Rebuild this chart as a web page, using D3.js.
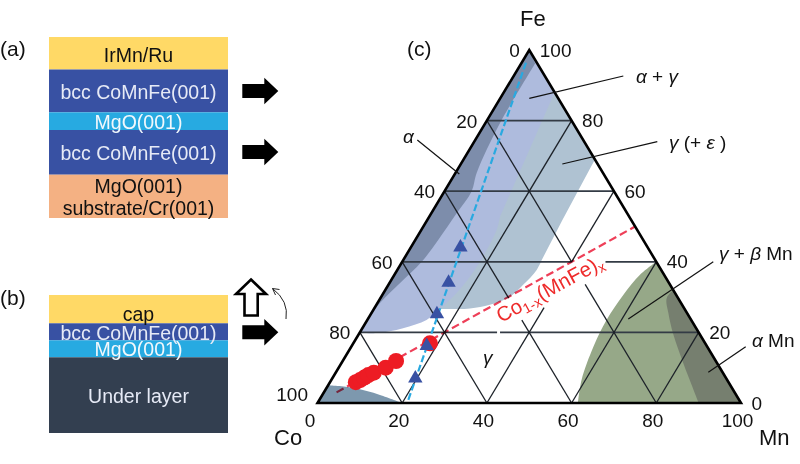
<!DOCTYPE html>
<html>
<head>
<meta charset="utf-8">
<script src="https://cdnjs.cloudflare.com/ajax/libs/d3/7.8.5/d3.min.js"></script>
<style>
html,body{margin:0;padding:0;background:#fff;}
svg{display:block;}
text{font-family:"Liberation Sans",Arial,sans-serif;}
</style>
</head>
<body>
<svg id="chart" width="800" height="464"></svg>
<script>
// layer stacks, top to bottom
var stackAThick=[32.5,42.8,17.7,44.7,43.3];
var stackAColors=["#ffd966","#3851a3","#27aae1","#3851a3","#f4b183"];
var stackALabels=[["IrMn/Ru"],["bcc CoMnFe(001)"],["MgO(001)"],["bcc CoMnFe(001)"],["MgO(001)","substrate/Cr(001)"]];
var stackATextColors=["#111","#e6eaf6","#f2f8fc","#e6eaf6","#111"];
var stackBThick=[28.3,17,17,75.7];
var stackBColors=["#ffd966","#3851a3","#27aae1","#333f50"];
var stackBLabels=[["cap"],["bcc CoMnFe(001)"],["MgO(001)"],["Under layer"]];
var stackBTextColors=["#111","#e6eaf6","#f2f8fc","#e6eaf6"];

// ternary values, every pair is [Mn, Fe] in at.%
var ticks=[0,20,40,60,80,100];
var triangleMn=[11.7,13.9,15.6,17.7,19.6];
var triangleFe=[44.1,34.1,25.2,16.2,7];
var circleMn=[6.1,6.8,7.45,8.05,9,11.1,12.6,18.1];
var circleFe=[5.9,6.5,7.2,7.9,8.6,10,11.9,16.9];
var blueLine=[[21,0.9],[0.9,97]];
var redLine=[[3,3],[50,50]];

// regions: straight runs and curved runs of the outline
var gammaOuter=[[15.6,26.6],[12,88],[31,69],[31.9,51.8],[32.7,40.5]];
var gammaLower=[[32.7,40.5],[32.9,37.7],[31.8,33.4],[30.4,30.1],[26.8,27.8],[22.6,26.8],[15.6,26.6]];
var alphaGammaOuter=[[0,20],[0,100],[12,88],[16.7,52.8]];
var alphaGammaSide=[[16.7,52.8],[17.8,49],[18.3,38.6],[17.3,31.2],[15.6,26.6]];
var alphaGammaLower=[[15.6,26.6],[14,23.5],[9.6,21.2],[4.1,19.8],[0,20]];
var alphaOuter=[[0,23],[0,100],[3.3,96.2]];
var alphaSide=[[3.3,96.2],[3.45,79.3],[5,65.2],[6.4,60],[6,53.8],[5.4,46.2],[4.6,40],[2.5,34],[0.6,28.3],[0,23]];
var coCornerOuter=[[20,0],[0,0],[0,5]];
var coCornerTop=[[0,5],[6.3,4.3],[13.6,2.3],[20,0]];
var gammaBetaOuter=[[61.5,0],[100,0],[60,40]];
var gammaBetaSide=[[60,40],[58,36.3],[56.9,30.6],[56.5,23.5],[57.2,15.9],[59.1,6.5],[61.5,0]];
var alphaMnOuter=[[90,0],[100,0],[68,32]];
var alphaMnSide=[[68,32],[67.6,29.7],[70.1,25.5],[74.4,19.3],[80.8,11.2],[85.8,5.1],[90,0]];

// grid pieces, broken where the red label sits
var gridHorizontal=[[[0,20],[32.4,20]],[[33.1,20],[80,20]],[[0,40],[40,40]],[[48,40],[60,40]],[[0,60],[40,60]],[[0,80],[20,80]]];
var gridDiagonal=[[[20,0],[20,80]],[[40,0],[40,27]],[[40,40],[40,60]],[[60,0],[60,40]],[[80,0],[80,20]],
	[[0,20],[20,0]],[[0,40],[40,0]],[[0,60],[30.3,29.7]],[[36.5,23.5],[60,0]],[[0,80],[40,40]],[[46.4,33.6],[80,0]]];

var svg=d3.select("#chart");

var xScale=d3.scaleLinear().domain([0,100]).range([317.5,741]);
var yScale=d3.scaleLinear().domain([0,100]).range([403,50]);
var px=d=>xScale(d[0]+d[1]/2);
var py=d=>yScale(d[1]);
var ternLine=d3.line().x(px).y(py);
var ternShape=d3.line().x(px).y(py).curve(d3.curveLinearClosed);
var ternCurve=d3.line().x(px).y(py).curve(d3.curveCatmullRom);

function regionPath(straight,curves){
	let p=ternLine(straight);
	curves.forEach(c=>{
		p+=ternCurve(c).replace("M","L");
	});
	return p+"Z";
}

function drawStack(top,thick,colors,labels,textColors,textY){
	let edges=d3.cumsum(thick);
	let y=d3.scaleLinear().domain([0,d3.sum(thick)]).range([top,top+d3.sum(thick)]);
	svg.append("g").selectAll("rect")
	.data(thick)
	.enter()
	.append("rect")
	.attr("x",49)
	.attr("width",179)
	.attr("y",(d,i)=>y(i?edges[i-1]:0))
	.attr("height",d=>y(d)-y(0))
	.attr("fill",(d,i)=>colors[i]);

	labels.forEach((rows,i)=>{
		rows.forEach((row,j)=>{
			svg.append("text")
			.attr("x",138.5)
			.attr("y",textY[i][j])
			.attr("text-anchor","middle")
			.attr("dominant-baseline","central")
			.attr("font-size",19.5)
			.attr("fill",textColors[i])
			.text(row);
		});
	});
}

drawStack(37,stackAThick,stackAColors,stackALabels,stackATextColors,[[54.5],[91.7],[122.3],[152.7],[185.7,208.3]]);
drawStack(295,stackBThick,stackBColors,stackBLabels,stackBTextColors,[[313.5],[332.7],[349.3],[395.7]]);

function rightArrow(cy){
	let pts=[[242.3,cy-7],[264.3,cy-7],[264.3,cy-13.3],[278.3,cy],[264.3,cy+13.3],[264.3,cy+7],[242.3,cy+7]];
	svg.append("path").attr("d",d3.line()(pts)+"Z").attr("fill","#000");
}
[91,152,332.3].forEach(rightArrow);

svg.append("path")
.attr("d",d3.line()([[251,279.5],[266,294],[257.7,294],[257.7,315.5],[244.5,315.5],[244.5,294],[236,294]])+"Z")
.attr("fill","#fff")
.attr("stroke","#000")
.attr("stroke-width",2.6);

svg.append("path")
.attr("d","M286,319Q289,301 272.5,288.5M272.5,288.5L279.5,289.5M272.5,288.5L275.5,295")
.attr("fill","none")
.attr("stroke","#222")
.attr("stroke-width",1);

// ternary regions
svg.append("path").attr("d",regionPath(gammaOuter,[gammaLower])).attr("fill","#afc2d2");
svg.append("path").attr("d",regionPath(alphaGammaOuter,[alphaGammaSide,alphaGammaLower])).attr("fill","#aebbdd");
svg.append("path").attr("d",regionPath(alphaOuter,[alphaSide])).attr("fill","#7d8dab");
svg.append("path").attr("d",regionPath(coCornerOuter,[coCornerTop])).attr("fill","#7d98ae");
svg.append("path").attr("d",regionPath(gammaBetaOuter,[gammaBetaSide])).attr("fill","#96a888");
svg.append("path").attr("d",regionPath(alphaMnOuter,[alphaMnSide])).attr("fill","#767f6f");

svg.append("g").selectAll("path")
.data(gridHorizontal)
.enter()
.append("path")
.attr("d",ternLine)
.attr("stroke","#333b45")
.attr("stroke-width",1.7)
.attr("fill","none");

svg.append("g").selectAll("path")
.data(gridDiagonal)
.enter()
.append("path")
.attr("d",ternLine)
.attr("stroke","#1c2128")
.attr("stroke-width",1.3)
.attr("fill","none");

svg.append("path")
.attr("d",ternShape([[0,0],[100,0],[0,100]]))
.attr("fill","none")
.attr("stroke","#000")
.attr("stroke-width",2.6)
.attr("stroke-linejoin","miter");

// composition lines
svg.append("path")
.attr("d",ternLine(blueLine))
.attr("stroke","#29a9e0")
.attr("stroke-width",2.2)
.attr("stroke-dasharray","7,3")
.attr("fill","none");

svg.append("path")
.attr("d",ternLine(redLine))
.attr("stroke","#ee3f58")
.attr("stroke-width",2.2)
.attr("stroke-dasharray","8,4")
.attr("fill","none")
.style("mix-blend-mode","multiply");

svg.append("g").selectAll("circle")
.data(circleMn)
.enter()
.append("circle")
.attr("cx",(d,i)=>px([d,circleFe[i]]))
.attr("cy",(d,i)=>py([d,circleFe[i]]))
.attr("r",8)
.attr("fill","#ed1c24");

var triangle=d3.symbol().type(d3.symbolTriangle).size(90);
svg.append("g").selectAll("path")
.data(triangleMn)
.enter()
.append("path")
.attr("d",triangle)
.attr("transform",(d,i)=>`translate(${px([d,triangleFe[i]])},${py([d,triangleFe[i]])})`)
.attr("fill","#3851a3");

// tick labels
function tickText(x,y,anchor,v){
	svg.append("text")
	.attr("x",x)
	.attr("y",y)
	.attr("text-anchor",anchor)
	.attr("dominant-baseline","central")
	.attr("font-size",19)
	.attr("fill","#111")
	.text(v);
}
ticks.forEach(v=>{
	tickText(xScale(v)+(v===0?-7.5:-3.5),420,"middle",v);
	tickText(px([0,100-v])-9.5,py([0,100-v])+(v===100?-9:0.5),"end",v);
	tickText(px([100-v,v])+10.5,py([100-v,v]),"start",v);
});

// letters, element names
function label(x,y,size,txt){
	return svg.append("text")
	.attr("x",x)
	.attr("y",y)
	.attr("dominant-baseline","central")
	.attr("font-size",size)
	.attr("fill","#111")
	.text(txt);
}
label(0,48,21,"(a)");
label(0,297.7,21,"(b)");
label(407,48,21,"(c)");
label(520,18,22,"Fe");
label(274,437,22,"Co");
label(759,437,22,"Mn");

// phase labels and their leaders
function leader(a,b){
	svg.append("path").attr("d",d3.line()([a,b])).attr("stroke","#111").attr("stroke-width",1.2).attr("fill","none");
}
leader([417.3,140],[459.3,174]);
leader([623.3,76],[529.3,98.3]);
leader([657.3,141.7],[562.3,164]);
leader([713.3,261.7],[628.3,319]);
leader([745.7,346.7],[708.3,372.3]);

function phase(x,y,parts){
	let t=label(x,y,19,null);
	parts.forEach(p=>{
		t.append("tspan").attr("font-style",p[1]?"italic":"normal").text(p[0]);
	});
}
phase(403,135.5,[["α",1]]);
phase(636,76,[["α",1],[" + ",0],["γ",1]]);
phase(669,142,[["γ",1],[" (+ ",0],["ε",1],[" )",0]]);
phase(719,253,[["γ",1],[" + ",0],["β",1],[" Mn",0]]);
phase(752,340,[["α",1],[" Mn",0]]);
phase(483,356.5,[["γ",1]]);

var redText=svg.append("text")
.attr("transform","translate(501,323) rotate(-28.5)")
.attr("font-size",20.5)
.attr("fill","#ee2b2b");
redText.append("tspan").text("Co");
redText.append("tspan").attr("font-size",14).attr("dy",4).text("1-x");
redText.append("tspan").attr("dy",-4).text("(MnFe)");
redText.append("tspan").attr("font-size",14).attr("dy",4).text("x");
</script>
</body>
</html>
